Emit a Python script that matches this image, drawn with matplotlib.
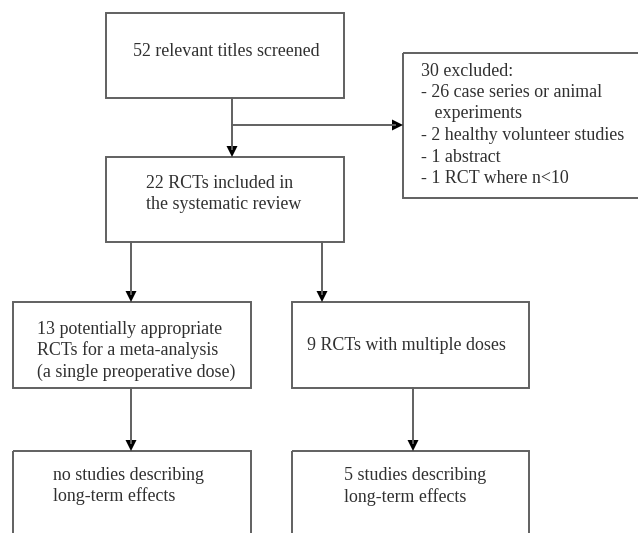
import matplotlib
matplotlib.use("Agg")
import matplotlib.pyplot as plt
from matplotlib.patches import Rectangle, Polygon

# Box texts
box_texts = [
    "52 relevant titles screened",
    "30 excluded:\n- 26 case series or animal\n   experiments\n- 2 healthy volunteer studies\n- 1 abstract\n- 1 RCT where n<10",
    "22 RCTs included in\nthe systematic review",
    "13 potentially appropriate\nRCTs for a meta-analysis\n(a single preoperative dose)",
    "9 RCTs with multiple doses",
    "no studies describing\nlong-term effects",
    "5 studies describing\nlong-term effects",
]
# Box geometry (x0, y0, x1, y1) in pixel-like coordinates (y downward)
boxes = [
    (106, 13, 344, 98),
    (403, 53, 640, 198),
    (106, 157, 344, 242),
    (13, 302, 251, 388),
    (292, 302, 529, 388),
    (13, 451, 251, 560),
    (292, 451, 529, 560),
]
# text anchor (x, y of first line) and alignment
text_pos = [
    (133, 52, 'left', 'center'),
    (421, 61, 'left', 'top'),
    (146, 183, 'left', 'center'),
    (37, 329, 'left', 'center'),
    (307, 345, 'left', 'center'),
    (53, 475, 'left', 'center'),
    (344, 476, 'left', 'center'),
]

W, H = 638, 533
fig = plt.figure(figsize=(6.38, 5.33), dpi=100)
ax = fig.add_axes([0, 0, 1, 1])
ax.set_xlim(0, W)
ax.set_ylim(H, 0)
ax.axis('off')

line_c = '#606060'
text_c = '#303030'
lw = 1.4
fs = 12.9
LS = 21.5  # line spacing in px

for (x0, y0, x1, y1) in boxes:
    ax.add_patch(Rectangle((x0, y0), x1 - x0, y1 - y0, fill=False,
                           edgecolor=line_c, linewidth=lw))

for txt, (x, y, ha, va) in zip(box_texts, text_pos):
    lines = txt.split('\n')
    off = 10 if va == 'top' else 0
    for i, ln in enumerate(lines):
        ax.text(x, y + off + i * LS, ln, ha=ha, va='center', fontsize=fs,
                family='Liberation Serif', color=text_c)

def vhead(x, ytip):
    ax.add_patch(Polygon([(x - 5.5, ytip - 11), (x + 5.5, ytip - 11), (x, ytip)],
                         closed=True, color='black', lw=0))

def hhead(xtip, y):
    ax.add_patch(Polygon([(xtip - 11, y - 5.5), (xtip - 11, y + 5.5), (xtip, y)],
                         closed=True, color='black', lw=0))

# connectors: (x, y_start, y_end)
v_arrows = [
    (232, 98, 157),
    (131, 242, 302),
    (322, 242, 302),
    (131, 388, 451),
    (413, 388, 451),
]
for x, ys, ye in v_arrows:
    ax.plot([x, x], [ys, ye - 8], color=line_c, lw=lw)
    vhead(x, ye)

# branch to exclusions
ax.plot([232, 395], [125, 125], color=line_c, lw=lw)
hhead(403, 125)

fig.savefig('out.png', dpi=100, facecolor='white')
